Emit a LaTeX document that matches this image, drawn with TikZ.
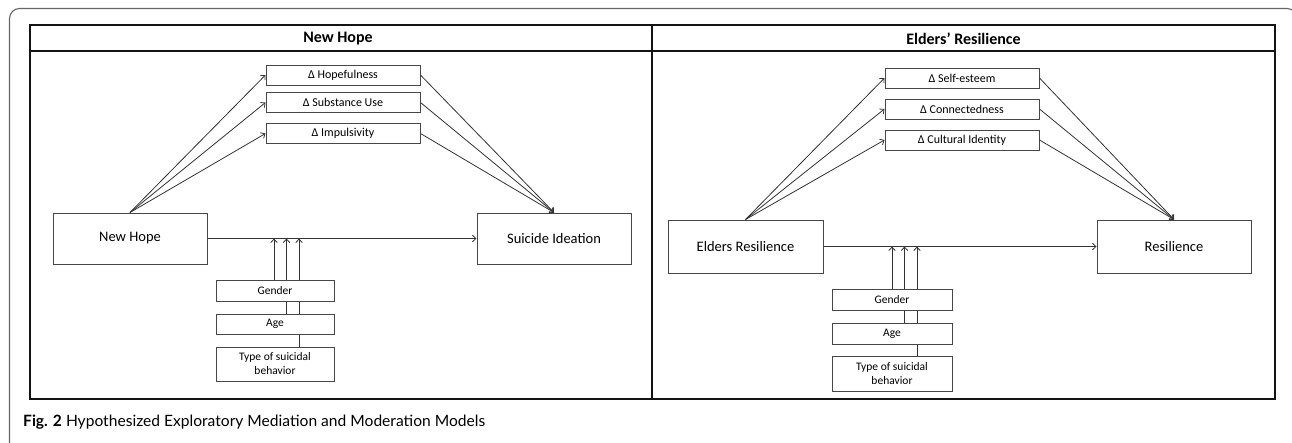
\documentclass[tikz,border=0pt]{standalone}
\usepackage{fontspec}
\setmainfont{Carlito}
\newfontfamily\capfont{Lato}
\usetikzlibrary{arrows.meta}
\begin{document}
\begin{tikzpicture}[x=1pt,y=-1pt,
  box/.style={draw=black!72, line width=1pt, fill=white, inner sep=0pt, align=center},
  bigbox/.style={box, minimum height=51pt, font=\fontsize{14.5}{17}\selectfont},
  medbox/.style={box, minimum width=154pt, minimum height=20pt, font=\fontsize{12}{14}\selectfont},
  modbox/.style={box, font=\fontsize{11.5}{14}\selectfont},
  arr/.style={draw=black!80, line width=0.8pt, -{Straight Barb[length=3.5pt,width=6.5pt]}},
  tbl/.style={draw=black!92, line width=1.8pt},
  hdr/.style={font=\bfseries\fontsize{16}{19}\selectfont, inner sep=0pt},
]
\useasboundingbox (0,0) rectangle (1292,442);

% outer frame
\draw[black!60, line width=1.1pt, rounded corners=10pt] (9.5,460) -- (9.5,8.5) -- (1297,8.5) -- (1297,460);

% table
\draw[tbl] (30,25) rectangle (1275,399);
\draw[tbl] (30,51) -- (1275,51);
\draw[tbl] (652,25) -- (652,399);
\node[hdr] (h1) at (338,38.5) {New Hope};
\node[hdr] (h2) at (963.5,38.5) {Elders’ Resilience};

% ---------------- left panel ----------------
\node[bigbox, minimum width=154pt] (nh) at (130,238.5) {New Hope};
\node[bigbox, minimum width=154pt] (si) at (554,238.5) {Suicide Ideation};
\node[medbox] (m1) at (343,75) {Δ Hopefulness};
\node[medbox] (m2) at (343,102.5) {Δ Substance Use};
\node[medbox] (m3) at (343,133.5) {Δ Impulsivity};

\foreach \m in {m1,m2,m3}{
  \draw[arr] (nh.north) -- (\m.west);
  \draw[arr] (\m.east) -- (si.north);
}
\draw[arr] (nh.east) -- (si.west);

\coordinate (p1) at (274,238.5);
\coordinate (p2) at (286.5,238.5);
\coordinate (p3) at (299,238.5);
\coordinate (gl) at (275,290.5);
\coordinate (al) at (275,324);
\coordinate (tl) at (275,364);
\draw[arr] (p1 |- gl) -- (p1);
\draw[arr] (p2 |- al) -- (p2);
\draw[arr] (p3 |- tl) -- (p3);
\node[modbox, minimum width=118pt, minimum height=21pt] (g1) at (gl) {Gender};
\node[modbox, minimum width=118pt, minimum height=20pt] (a1) at (al) {Age};
\node[modbox, minimum width=118pt, minimum height=34pt] (t1) at (tl) {Type of suicidal\\behavior};

% ---------------- right panel ----------------
\node[bigbox, minimum width=155pt, minimum height=53pt] (er) at (745.5,246.5) {Elders Resilience};
\node[bigbox, minimum width=154pt, minimum height=53pt] (rs) at (1174,246.5) {Resilience};
\node[medbox] (s1) at (962,78) {Δ Self-esteem};
\node[medbox] (s2) at (962,109) {Δ Connectedness};
\node[medbox] (s3) at (962,140) {Δ Cultural Identity};

\foreach \m in {s1,s2,s3}{
  \draw[arr] (er.north) -- (\m.west);
  \draw[arr] (\m.east) -- (rs.north);
}
\draw[arr] (er.east) -- (rs.west);

\coordinate (q1) at (892,246.5);
\coordinate (q2) at (904.5,246.5);
\coordinate (q3) at (917,246.5);
\coordinate (gr) at (892,299.5);
\coordinate (ar) at (892,333.5);
\coordinate (tr) at (892,373.5);
\draw[arr] (q1 |- gr) -- (q1);
\draw[arr] (q2 |- ar) -- (q2);
\draw[arr] (q3 |- tr) -- (q3);
\node[modbox, minimum width=120pt, minimum height=21pt] (g2) at (gr) {Gender};
\node[modbox, minimum width=120pt, minimum height=21pt] (a2) at (ar) {Age};
\node[modbox, minimum width=120pt, minimum height=35pt] (t2) at (tr) {Type of suicidal\\behavior};

% caption
\node[anchor=base west, inner sep=0pt] (cap) at (23,426) {\resizebox{462pt}{!}{\capfont\fontsize{14}{16}\selectfont\textbf{Fig. 2} Hypothesized Exploratory Mediation and Moderation Models}};
\end{tikzpicture}
\end{document}
